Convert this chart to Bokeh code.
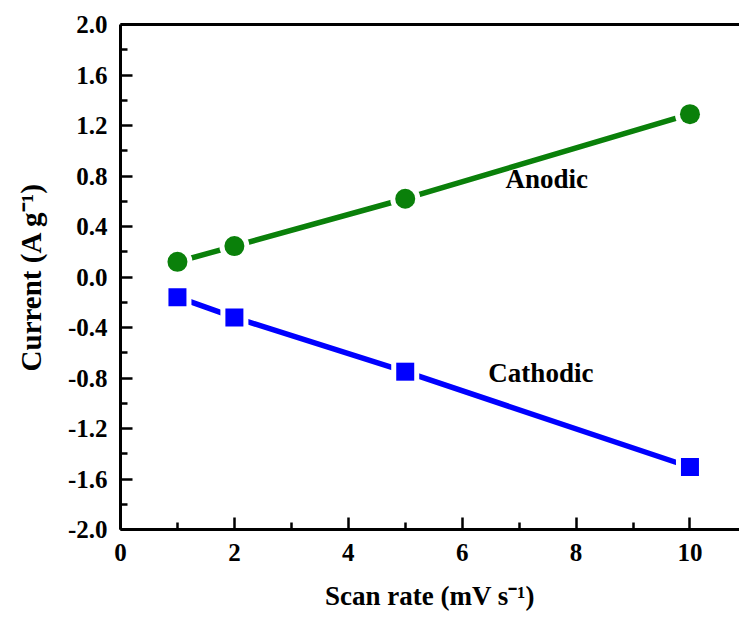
from bokeh.plotting import figure
from bokeh.models import FixedTicker, LinearAxis, Range1d, Label, ColumnDataSource
from bokeh.embed import file_html
from bokeh.resources import INLINE

scan_rate = [1, 2, 5, 10]
anodic = [0.12, 0.245, 0.62, 1.29]
cathodic = [-0.16, -0.32, -0.75, -1.505]

x_ticks = [0, 2, 4, 6, 8, 10]
x_minor = [1, 3, 5, 7, 9]
y_ticks = [-2.0, -1.6, -1.2, -0.8, -0.4, 0.0, 0.4, 0.8, 1.2, 1.6, 2.0]
y_minor = [-1.8, -1.4, -1.0, -0.6, -0.2, 0.2, 0.6, 1.0, 1.4, 1.8]
y_tick_labels = ["-2.0", "-1.6", "-1.2", "-0.8", "-0.4", "0.0", "0.4", "0.8", "1.2", "1.6", "2.0"]

FONT = "Liberation Serif"

p = figure(width=739, height=620, output_backend="svg", toolbar_location=None,
           x_range=Range1d(0, 10.87), y_range=Range1d(-2.0, 2.0),
           min_border_left=120, min_border_top=24, min_border_bottom=91, min_border_right=0)
p.outline_line_color = None
p.grid.visible = False
p.background_fill_color = "white"

src_a = ColumnDataSource(dict(x=scan_rate, y=anodic))
src_c = ColumnDataSource(dict(x=scan_rate, y=cathodic))

p.line("x", "y", source=src_a, line_color="#0a800a", line_width=5.5)
p.line("x", "y", source=src_c, line_color="#0000ff", line_width=5.5)
p.scatter("x", "y", source=src_a, marker="circle", size=30, fill_color="white", line_color=None)
p.scatter("x", "y", source=src_c, marker="square", size=28, fill_color="white", line_color=None)
p.scatter("x", "y", source=src_a, marker="circle", size=20, fill_color="#0a800a", line_color=None)
p.scatter("x", "y", source=src_c, marker="square", size=18, fill_color="#0000ff", line_color=None)

for ax in (p.xaxis[0], p.yaxis[0]):
    ax.axis_line_width = 3
    ax.major_tick_line_width = 2.5
    ax.minor_tick_line_width = 2.5
    ax.major_tick_in = 12
    ax.major_tick_out = 0
    ax.minor_tick_in = 7
    ax.minor_tick_out = 0
    ax.major_label_text_font = FONT
    ax.major_label_text_font_style = "bold"
    ax.major_label_text_font_size = "25px"
    ax.major_label_text_color = "black"
    ax.axis_label_text_font = FONT
    ax.axis_label_text_font_style = "bold"
    ax.axis_label_text_color = "black"

p.xaxis[0].axis_label_text_font_size = "27px"
p.yaxis[0].axis_label_text_font_size = "29px"
p.xaxis[0].ticker = FixedTicker(ticks=x_ticks, minor_ticks=x_minor)
p.yaxis[0].ticker = FixedTicker(ticks=y_ticks, minor_ticks=y_minor)
p.yaxis[0].major_label_overrides = dict(zip(y_ticks, y_tick_labels))
p.xaxis[0].axis_label = "Scan rate (mV s\u207b\u00b9)"
p.yaxis[0].axis_label = "Current (A g\u207b\u00b9)"
p.xaxis[0].major_label_standoff = 14
p.yaxis[0].major_label_standoff = 13
p.xaxis[0].axis_label_standoff = 17
p.yaxis[0].axis_label_standoff = 18

top = LinearAxis(ticker=FixedTicker(ticks=[]), axis_line_width=3,
                 major_tick_line_color=None, minor_tick_line_color=None,
                 major_label_text_font_size="0px")
p.add_layout(top, "above")

p.add_layout(Label(x=6.76, y=0.655, text="Anodic", text_font=FONT, text_font_style="bold",
                   text_font_size="27px", text_color="black"))
p.add_layout(Label(x=6.46, y=-0.88, text="Cathodic", text_font=FONT, text_font_style="bold",
                   text_font_size="27px", text_color="black"))

open("out.html", "w").write(file_html(p, INLINE))
